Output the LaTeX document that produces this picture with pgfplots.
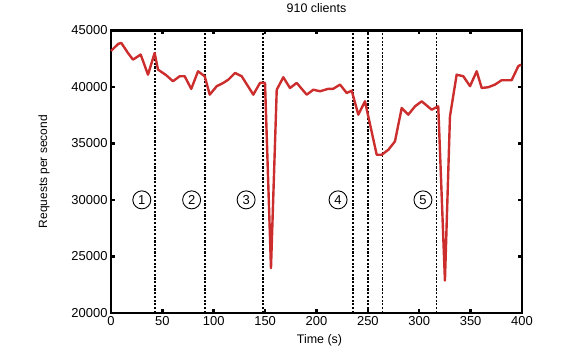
\documentclass[border=0pt]{standalone}
\usepackage{fontspec}
\setmainfont{Liberation Sans}
\usepackage{pgfplots}
\pgfplotsset{compat=1.18}
\definecolor{linered}{RGB}{204,45,45}
\begin{document}
\begin{tikzpicture}
\begin{axis}[
  scale only axis, width=411bp, height=282.5bp,
  xmin=0, xmax=400, ymin=20000, ymax=45000,
  xtick={0,50,...,400}, ytick={20000,25000,...,45000},
  scaled y ticks=false,
  yticklabel style={/pgf/number format/fixed,/pgf/number format/1000 sep={}},
  /pgf/number format/assume math mode=true,
  tick label style={font=\fontsize{13}{15}\selectfont},
  axis line style={line width=2.5bp},
  tick align=inside, major tick length=4bp,
  tick style={line width=2.5bp, black},
  title={910 clients},
  title style={font=\fontsize{12.5}{15}\selectfont, at={(axis description cs:0.5,1)}, anchor=center, yshift=16.5bp},
  xlabel={Time (s)},
  xlabel style={font=\fontsize{12.5}{15}\selectfont, at={(axis description cs:0.5,0)}, anchor=center, yshift=-27bp, xshift=3bp},
  ylabel={Requests per second},
  ylabel style={font=\fontsize{12}{14}\selectfont, at={(axis description cs:-0.163,0.5)}, anchor=center},
  clip=false,
]
\foreach \v in {42.8,91.5,148,235.5,250,264,317}{
  \edef\temp{\noexpand\addplot[black, line width=1.3bp, dash pattern=on 2.2bp off 1.5bp, forget plot] coordinates {(\v,20000) (\v,45000)};}
  \temp
}
\addplot[linered, line width=2.4bp, line join=round] coordinates {
(0,43180)(7,43800)(10,43890)(16.5,43000)(21.4,42410)(28.9,42860)(36,41080)(42.5,43000)(45.7,41530)(53.5,41050)(60.3,40500)(66.9,40940)(71.7,40940)(78.1,39820)(84.7,41380)(91.2,40940)(96.1,39310)(102.9,40060)(109.3,40350)(114.2,40640)(120.7,41230)(127.2,40940)(138.5,39310)(145,40350)(149.9,40350)(155.7,23950)(161.3,39750)(167.7,40850)(174.2,39900)(180.7,40350)(190.5,39310)(196.9,39750)(203.4,39610)(211.2,39820)(216.1,39820)(222.9,40200)(229.4,39460)(234.3,39660)(240.7,37540)(247.2,38720)(258.6,33990)(263.4,33990)(269.9,34430)(276.4,35180)(282.9,38130)(289.3,37540)(295.9,38280)(302.4,38720)(312.1,37980)(318.5,38280)(325,22860)(329.9,37390)(336.4,41080)(342.9,40940)(349.4,40060)(355.9,41380)(360.8,39900)(367.2,39970)(373.7,40200)(380.2,40590)(389.9,40590)(396.4,41830)(399,41970)
};
\foreach \p/\t in {30/1,78.5/2,131.5/3,221/4,303.6/5}{
  \edef\temp{\noexpand\node[circle, draw, line width=0.9bp, minimum size=18bp, inner sep=0pt, font=\noexpand\fontsize{13}{15}\noexpand\selectfont] at (axis cs:\p,30000) {\t};}
  \temp
}
\end{axis}
\path (current axis.south west) +(-111bp,-41bp);
\path (current axis.north east) +(54bp,27.5bp);
\end{tikzpicture}
\end{document}
